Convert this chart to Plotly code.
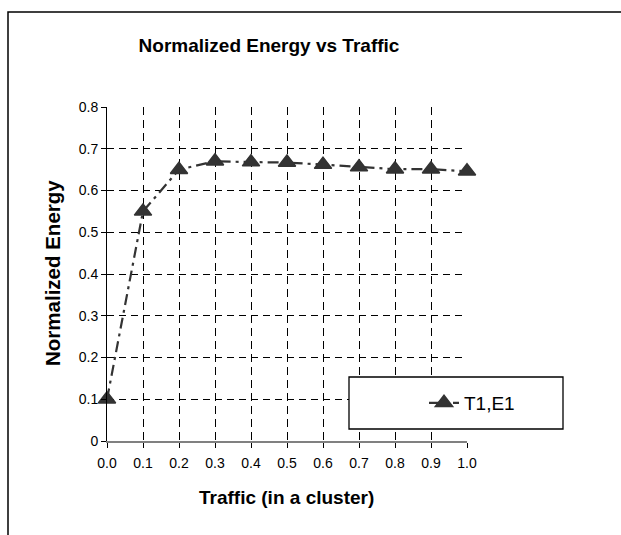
import plotly.graph_objects as go

# Traffic load within a cluster and the resulting normalized energy
traffic = [0.0, 0.1, 0.2, 0.3, 0.4, 0.5, 0.6, 0.7, 0.8, 0.9, 1.0]
energy = [0.10, 0.55, 0.65, 0.670, 0.668, 0.667, 0.662, 0.656, 0.651, 0.651, 0.646]
series_name = "T1,E1"

x_ticks = [0.0, 0.1, 0.2, 0.3, 0.4, 0.5, 0.6, 0.7, 0.8, 0.9, 1.0]
x_tick_text = ["0.0", "0.1", "0.2", "0.3", "0.4", "0.5", "0.6", "0.7", "0.8", "0.9", "1.0"]
y_ticks = [0.0, 0.1, 0.2, 0.3, 0.4, 0.5, 0.6, 0.7, 0.8]
y_tick_text = ["0", "0.1", "0.2", "0.3", "0.4", "0.5", "0.6", "0.7", "0.8"]

# interior gridlines only (none on the top / right edges)
x_grid = x_ticks[1:-1]
y_grid = y_ticks[1:-1]

FONT = "Liberation Sans, Arial, sans-serif"
W, H = 621, 535
L, R, T, B = 107, 154, 107, 94
PW, PH = W - L - R, H - T - B


def px_x(p):
    return (p - L) / PW


def px_y(p):
    return (H - B - p) / PH


fig = go.Figure()

# invisible trace that carries the gridline axes
fig.add_trace(go.Scatter(x=[], y=[], xaxis="x2", yaxis="y2",
                         showlegend=False, hoverinfo="skip"))

fig.add_trace(go.Scatter(
    x=traffic, y=energy, name=series_name, mode="lines+markers",
    line=dict(color="#333333", width=2.2, dash="11px,5px,3px,5px"),
    marker=dict(symbol="triangle-up", size=15, color="#333333",
                line=dict(color="#333333", width=1.5)),
    cliponaxis=False,
))

tick_font = dict(family=FONT, size=14, color="black")

fig.update_layout(
    width=W, height=H,
    margin=dict(l=L, r=R, t=T, b=B),
    paper_bgcolor="white", plot_bgcolor="white",
    font=dict(family=FONT, size=14, color="black"),
    title=dict(text="Normalized Energy vs Traffic",
               font=dict(family=FONT, size=19, color="black", weight="bold"),
               x=px_x(269), xref="paper", xanchor="center",
               y=1 - 45 / H, yref="container", yanchor="middle"),
    xaxis=dict(range=[0, 1], tickvals=x_ticks, ticktext=x_tick_text,
               ticks="outside", ticklen=5, tickcolor="black", tickwidth=1,
               showline=True, linecolor="#808080", linewidth=2,
               showgrid=False, zeroline=False, fixedrange=True,
               ticklabelstandoff=3, tickfont=tick_font),
    yaxis=dict(range=[0, 0.8], tickvals=y_ticks, ticktext=y_tick_text,
               ticks="outside", ticklen=5, tickcolor="black", tickwidth=1,
               showline=True, linecolor="black", linewidth=1,
               showgrid=False, zeroline=False, fixedrange=True,
               tickfont=tick_font),
    xaxis2=dict(overlaying="x", range=[0, 1], tickvals=x_grid,
                showticklabels=False, ticks="", showline=False,
                showgrid=True, gridcolor="black", gridwidth=1,
                griddash="8px,5px", zeroline=False, fixedrange=True),
    yaxis2=dict(overlaying="y", range=[0, 0.8], tickvals=y_grid,
                showticklabels=False, ticks="", showline=False,
                showgrid=True, gridcolor="black", gridwidth=1,
                griddash="7px,5px", zeroline=False, fixedrange=True),
    showlegend=True,
    legend=dict(x=px_x(472), y=px_y(403), xanchor="center", yanchor="middle",
                bgcolor="rgba(0,0,0,0)", borderwidth=0,
                font=dict(family=FONT, size=19, color="black")),
)

# axis titles
fig.add_annotation(text="Traffic (in a cluster)", xref="paper", yref="paper",
                   x=px_x(286), y=px_y(497), xanchor="center", yanchor="middle",
                   showarrow=False,
                   font=dict(family=FONT, size=19, color="black", weight="bold"))
fig.add_annotation(text="Normalized Energy", xref="paper", yref="paper",
                   x=px_x(52), y=px_y(273), xanchor="center", yanchor="middle",
                   showarrow=False, textangle=-90,
                   font=dict(family=FONT, size=20.5, color="black", weight="bold"))

# legend frame
fig.add_shape(type="rect", xref="paper", yref="paper", layer="above",
              x0=px_x(349), x1=px_x(563), y0=px_y(429), y1=px_y(377),
              fillcolor="white", line=dict(color="black", width=1.3))

# chart-area border
fig.add_shape(type="rect", xref="paper", yref="paper", layer="above",
              x0=px_x(8), x1=px_x(W + 10), y0=px_y(H + 10), y1=px_y(12),
              fillcolor="rgba(0,0,0,0)", line=dict(color="black", width=1.5))

fig.write_html("out.html")
